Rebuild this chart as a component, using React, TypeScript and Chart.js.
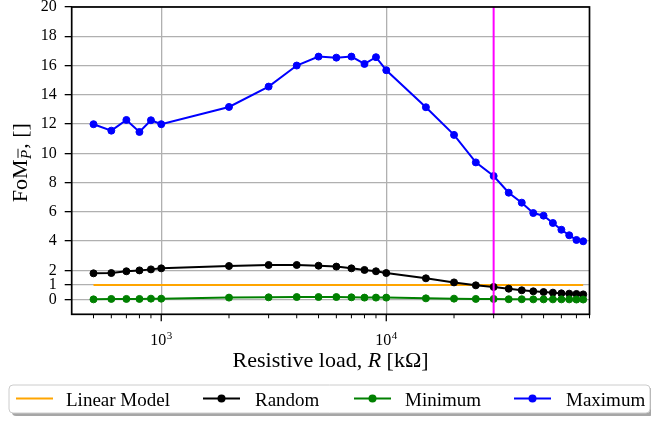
import React, { useEffect, useRef } from 'react';
import { Chart, registerables } from 'chart.js';

Chart.register(...registerables);

// ---------- data ----------
const resistanceKOhm = [
  500, 600, 700, 800, 900, 1000, 2000, 3000, 4000, 5000, 6000, 7000, 8000, 9000,
  10000, 15000, 20000, 25000, 30000, 35000, 40000, 45000, 50000, 55000, 60000,
  65000, 70000, 75000,
];
const randomFoM = [
  1.8, 1.82, 1.94, 2.0, 2.07, 2.14, 2.3, 2.37, 2.37, 2.32, 2.26, 2.14, 2.03, 1.94,
  1.82, 1.46, 1.18, 0.98, 0.87, 0.75, 0.64, 0.57, 0.52, 0.48, 0.43, 0.41, 0.39, 0.36,
];
const minimumFoM = [
  0.02, 0.05, 0.05, 0.05, 0.07, 0.07, 0.14, 0.16, 0.18, 0.18, 0.18, 0.16, 0.14, 0.14,
  0.14, 0.09, 0.07, 0.05, 0.05, 0.03, 0.03, 0.02, 0.02, 0.02, 0.02, 0.02, 0.01, 0.01,
];
const maximumFoM = [
  11.99, 11.55, 12.28, 11.46, 12.26, 11.99, 13.17, 14.56, 16.0, 16.61, 16.54, 16.61,
  16.11, 16.57, 15.68, 13.15, 11.26, 9.38, 8.45, 7.31, 6.63, 5.92, 5.74, 5.24, 4.78,
  4.4, 4.08, 3.99,
];
const linearModelR = [500, 75000];
const linearModelFoM = [1, 1];
const thresholdR = 30000;

const yTickValues = [0, 1, 2, 4, 6, 8, 10, 12, 14, 16, 18, 20];
const xMajorTicks = [1000, 10000];
const xMajorExponents = ['3', '4'];
const xMinorTicks = [
  500, 600, 700, 800, 900, 2000, 3000, 4000, 5000, 6000, 7000, 8000, 9000, 20000,
  30000, 40000, 50000, 60000, 70000, 80000,
];
const legendLabels = ['Linear Model', 'Random', 'Minimum', 'Maximum'];
const seriesColors = ['#ffa500', '#000000', '#008000', '#0000ff'];

const SERIF = '"Liberation Serif", "Times New Roman", serif';

const pairs = (xs: number[], ys: number[]) => xs.map((x, i) => ({ x, y: ys[i] }));

const customPlugin = {
  id: 'customDecor',
  afterDatasetsDraw(chart: any) {
    const { ctx, chartArea: a, scales } = chart;
    const x = scales.x;
    ctx.save();
    const px = x.getPixelForValue(thresholdR);
    ctx.strokeStyle = '#ff00ff';
    ctx.lineWidth = 2;
    ctx.beginPath();
    ctx.moveTo(px, a.top);
    ctx.lineTo(px, a.bottom);
    ctx.stroke();
    ctx.restore();
  },
  afterDraw(chart: any) {
    const { ctx, chartArea: a, scales } = chart;
    const x = scales.x;
    ctx.save();
    // frame
    ctx.strokeStyle = '#000';
    ctx.lineWidth = 1.7;
    ctx.strokeRect(a.left, a.top, a.right - a.left, a.bottom - a.top);

    // x ticks
    ctx.lineWidth = 1.3;
    xMajorTicks.forEach((v) => {
      const p = x.getPixelForValue(v);
      ctx.beginPath();
      ctx.moveTo(p, a.bottom);
      ctx.lineTo(p, a.bottom + 7);
      ctx.stroke();
    });
    ctx.lineWidth = 1;
    xMinorTicks.forEach((v) => {
      const p = x.getPixelForValue(v);
      ctx.beginPath();
      ctx.moveTo(p, a.bottom);
      ctx.lineTo(p, a.bottom + 4);
      ctx.stroke();
    });

    // x tick labels 10^n
    ctx.fillStyle = '#000';
    ctx.textBaseline = 'alphabetic';
    ctx.textAlign = 'left';
    xMajorTicks.forEach((v, i) => {
      const p = x.getPixelForValue(v);
      ctx.font = `16px ${SERIF}`;
      const wb = ctx.measureText('10').width;
      ctx.font = `11px ${SERIF}`;
      const we = ctx.measureText(xMajorExponents[i]).width;
      const start = p - (wb + we + 0.5) / 2;
      ctx.font = `16px ${SERIF}`;
      ctx.fillText('10', start, a.bottom + 31);
      ctx.font = `11px ${SERIF}`;
      ctx.fillText(xMajorExponents[i], start + wb + 0.5, a.bottom + 24.3);
    });

    // x title
    const cxTitle = (a.left + a.right) / 2;
    const fN = `22px ${SERIF}`;
    const fI = `italic 22px ${SERIF}`;
    ctx.font = fN;
    const s1 = 'Resistive load, ';
    const s3 = ' [kΩ]';
    const w1 = ctx.measureText(s1).width;
    const w3 = ctx.measureText(s3).width;
    ctx.font = fI;
    const w2 = ctx.measureText('R').width;
    let tx = cxTitle - (w1 + w2 + w3) / 2;
    const ty = 367;
    ctx.font = fN;
    ctx.fillText(s1, tx, ty);
    tx += w1;
    ctx.font = fI;
    ctx.fillText('R', tx, ty);
    tx += w2;
    ctx.font = fN;
    ctx.fillText(s3, tx, ty);

    // y title (rotated)
    ctx.save();
    ctx.translate(26.5, (a.top + a.bottom) / 2 + 2);
    ctx.rotate(-Math.PI / 2);
    const fy = `22px ${SERIF}`;
    const fs = `italic 15px ${SERIF}`;
    ctx.font = fy;
    const wF = ctx.measureText('FoM').width;
    const wR = ctx.measureText(', []').width;
    ctx.font = fs;
    const wP = ctx.measureText('P').width;
    let yx = -(wF + wP + 1.5 + wR) / 2;
    ctx.font = fy;
    ctx.fillText('FoM', yx, 0);
    yx += wF + 0.5;
    ctx.font = fs;
    ctx.fillText('P', yx, 4);
    ctx.lineWidth = 0.9;
    ctx.beginPath();
    ctx.moveTo(yx + 1, 4 - 12.5);
    ctx.lineTo(yx + wP + 1, 4 - 12.5);
    ctx.stroke();
    yx += wP + 1;
    ctx.font = fy;
    ctx.fillText(', []', yx, 0);
    ctx.restore();

    // legend
    const lx = 9, ly = 385, lw = 641, lh = 28;
    ctx.fillStyle = 'rgba(0,0,0,0.35)';
    ctx.beginPath();
    (ctx as any).roundRect(lx + 3, ly + 3, lw, lh, 4);
    ctx.fill();
    ctx.fillStyle = '#ffffff';
    ctx.strokeStyle = '#cccccc';
    ctx.lineWidth = 1;
    ctx.beginPath();
    (ctx as any).roundRect(lx, ly, lw, lh, 4);
    ctx.fill();
    ctx.stroke();

    const handleStarts = [16, 203, 354, 514];
    const textStarts = [66, 255, 405, 566];
    const hy = 398.5;
    chart.data.datasets.forEach((ds: any, i: number) => {
      const h0 = handleStarts[i];
      ctx.strokeStyle = ds.borderColor;
      ctx.lineWidth = 2;
      ctx.beginPath();
      ctx.moveTo(h0, hy);
      ctx.lineTo(h0 + 37, hy);
      ctx.stroke();
      if (ds.pointRadius > 0) {
        ctx.fillStyle = ds.borderColor;
        ctx.beginPath();
        ctx.arc(h0 + 18.5, hy, 4, 0, Math.PI * 2);
        ctx.fill();
      }
      ctx.fillStyle = '#000';
      ctx.font = `19px ${SERIF}`;
      ctx.fillText(legendLabels[i], textStarts[i], 405.5);
    });
    ctx.restore();
  },
};

export default function App() {
  const canvasRef = useRef<HTMLCanvasElement | null>(null);

  useEffect(() => {
    document.body.style.margin = '0';
    const canvas = canvasRef.current;
    if (!canvas) return;

    const seriesData = [
      pairs(linearModelR, linearModelFoM),
      pairs(resistanceKOhm, randomFoM),
      pairs(resistanceKOhm, minimumFoM),
      pairs(resistanceKOhm, maximumFoM),
    ];

    const chart = new Chart(canvas, {
      type: 'line',
      data: {
        datasets: seriesData.map((d, i) => ({
          label: legendLabels[i],
          data: d,
          borderColor: seriesColors[i],
          backgroundColor: seriesColors[i],
          borderWidth: 2,
          pointRadius: i === 0 ? 0 : 3.5,
          pointBorderWidth: 1,
          pointBorderColor: seriesColors[i],
          pointBackgroundColor: seriesColors[i],
          tension: 0,
          fill: false,
          order: 3 - i,
        })),
      },
      options: {
        responsive: false,
        animation: false,
        layout: { padding: { left: 0, right: 61.5, top: 7, bottom: 0 } },
        plugins: {
          legend: { display: false },
          tooltip: { enabled: false },
          title: { display: false },
        },
        scales: {
          x: {
            type: 'logarithmic',
            min: 400,
            max: 80000,
            afterBuildTicks: (scale: any) => {
              scale.ticks = xMajorTicks.map((v) => ({ value: v }));
            },
            afterFit: (scale: any) => {
              scale.height = 106.7;
              scale.paddingLeft = 0;
              scale.paddingRight = 0;
            },
            ticks: { display: false },
            grid: { color: '#b0b0b0', lineWidth: 1.3, drawTicks: false },
            border: { display: false },
          },
          y: {
            type: 'linear',
            min: -1,
            max: 20,
            afterBuildTicks: (scale: any) => {
              scale.ticks = yTickValues.map((v) => ({ value: v }));
            },
            afterFit: (scale: any) => {
              scale.width = 71.7;
              scale.paddingTop = 0;
              scale.paddingBottom = 0;
            },
            ticks: {
              autoSkip: false,
              color: '#000',
              padding: 8,
              font: { family: SERIF, size: 16 },
              callback: (v: any) => String(v),
            },
            grid: {
              color: '#b0b0b0',
              lineWidth: 1.3,
              tickLength: 7,
              tickColor: '#000',
              tickWidth: 1.3,
            },
            border: { display: false },
          },
        },
      },
      plugins: [customPlugin],
    } as any);

    return () => chart.destroy();
  }, []);

  return (
    <div style={{ position: 'fixed', left: 0, top: 0, width: 651, height: 421 }}>
      <canvas
        ref={canvasRef}
        width={651}
        height={421}
        style={{ width: 651, height: 421, display: 'block' }}
      />
    </div>
  );
}
